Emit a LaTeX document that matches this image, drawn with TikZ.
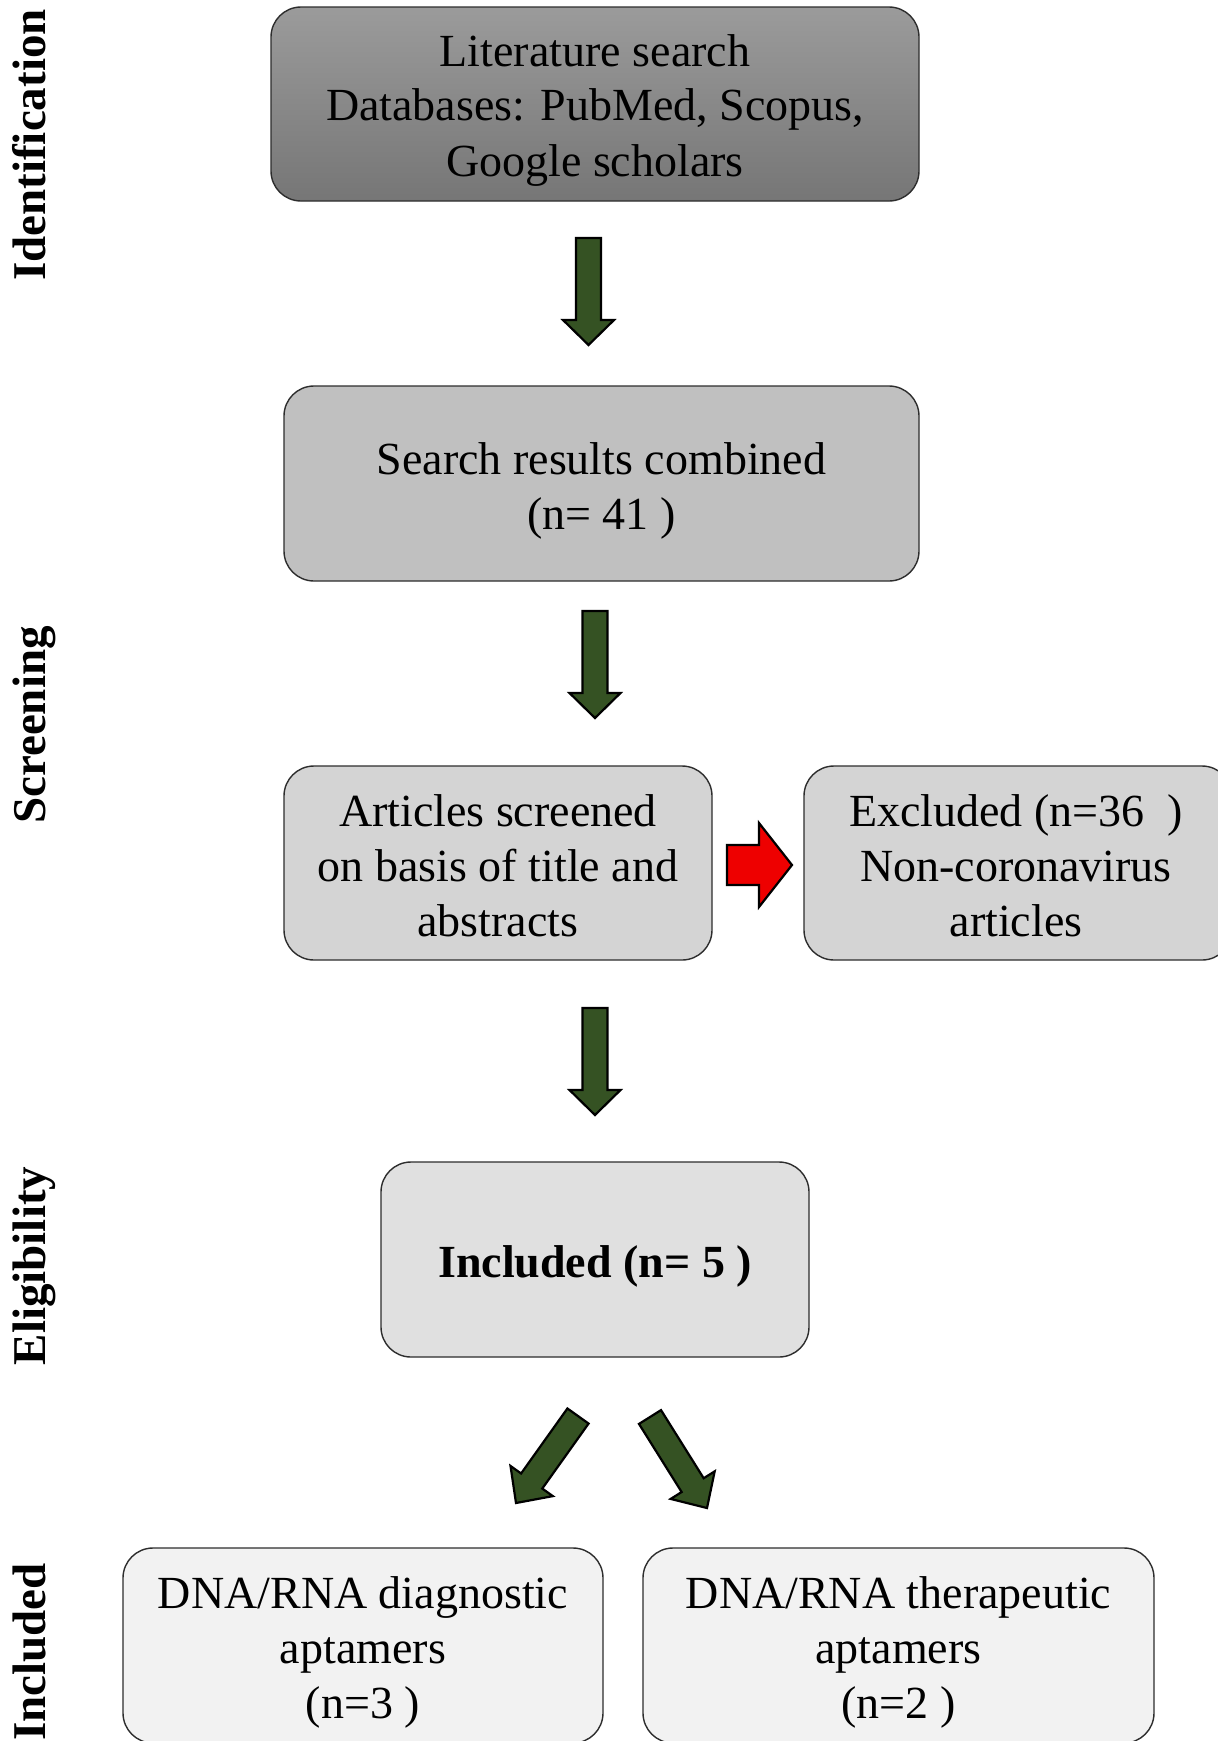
\documentclass[tikz,border=0pt]{standalone}
\usepackage{fontspec}
\setmainfont{Liberation Serif}
\usetikzlibrary{calc}
\definecolor{dgreen}{RGB}{53,82,35}
\definecolor{redarrow}{RGB}{238,0,0}
\definecolor{boxedge}{RGB}{45,45,45}
\definecolor{gA}{RGB}{192,192,192}
\definecolor{gB}{RGB}{212,212,212}
\definecolor{gC}{RGB}{224,224,224}
\definecolor{gD}{RGB}{242,242,242}
\newcommand\blockarrow[6]{%
  % #1 style, #2 tail, #3 tip, #4 shaft half width, #5 head half width, #6 head length
  \draw[#1] ($(#2)!#4!90:(#3)$) -- ($($(#3)!#6!(#2)$)!#4!-90:(#2)$)
    -- ($($(#3)!#6!(#2)$)!#5!-90:(#2)$) -- (#3)
    -- ($($(#3)!#6!(#2)$)!#5!90:(#2)$) -- ($($(#3)!#6!(#2)$)!#4!90:(#2)$)
    -- ($(#2)!#4!-90:(#3)$) -- cycle;}
\begin{document}
\begin{tikzpicture}[x=1pt,y=-1pt,
  box/.style={draw=boxedge, line width=1.4pt, rounded corners=30pt, inner sep=0pt},
  txt/.style={inner sep=0pt, align=center, font=\fontsize{46}{55}\selectfont},
  side/.style={rotate=90, anchor=base, inner sep=0pt, font=\fontsize{47}{55}\selectfont\bfseries},
  garrow/.style={fill=dgreen, draw=black, line width=2.2pt, line join=miter},
  rarrow/.style={fill=redarrow, draw=black, line width=2.2pt, line join=miter}]
\useasboundingbox (0,0) rectangle (1218,1741);
\clip (0,0) rectangle (1218,1741);
\fill[white] (0,0) rectangle (1218,1741);

% side labels
\node[side] (lid) at (45,145) {Identification};
\node[side] (lsc) at (45,725) {Screening};
\node[side] (lel) at (45,1266) {Eligibility};
\node[side] (lin) at (45,1652) {Included};

% boxes
\node[box, minimum width=648pt, minimum height=194pt, top color={rgb,255:red,155;green,155;blue,155},
  bottom color={rgb,255:red,118;green,118;blue,118}] (b1) at (595,104) {};
\node[box, fill=gA, minimum width=635pt, minimum height=195pt] (b2) at (601.5,483.5) {};
\node[box, fill=gB, minimum width=428pt, minimum height=194pt] (b3) at (498,863) {};
\node[box, fill=gB, minimum width=428pt, minimum height=194pt] (b4) at (1018,863) {};
\node[box, fill=gC, minimum width=428pt, minimum height=195pt] (b5) at (595,1259.5) {};
\node[box, fill=gD, minimum width=480pt, minimum height=195pt] (b6) at (363,1645.5) {};
\node[box, fill=gD, minimum width=511pt, minimum height=195pt] (b7) at (898.5,1645.5) {};

% box texts
\node[txt] (b1t) at ($(b1)+(0,6)$) {Literature search\\Databases: PubMed, Scopus,\\Google scholars};
\node[txt] (b2t) at ($(b2)+(0,7)$) {Search results combined\\(n= 41 )};
\node[txt] (b3t) at ($(b3)+(0,3)$) {Articles screened\\on basis of title and\\abstracts};
\node[txt] (b4t) at ($(b4)+(-2,3)$) {Excluded (n=36\ \ )\\Non-coronavirus\\articles};
\node[txt, font=\fontsize{46}{55}\selectfont\bfseries] (b5t) at ($(b5)+(0,7)$) {Included (n= 5 )};
\node[txt] (b6t) at ($(b6)+(0,7)$) {DNA/RNA diagnostic\\aptamers\\(n=3 )};
\node[txt] (b7t) at ($(b7)+(0,7)$) {DNA/RNA therapeutic\\aptamers\\(n=2 )};

% arrow end points
\coordinate (t1) at (588.5,238); \coordinate (p1) at (588.5,345);
\coordinate (t2) at (595,611);   \coordinate (p2) at (595,718);
\coordinate (t3) at (595,1008);  \coordinate (p3) at (595,1115);
\coordinate (tr) at (727,865);   \coordinate (pr) at (792,865);
\coordinate (t4) at (578,1416);  \coordinate (p4) at (516,1503);
\coordinate (t5) at (650,1417);  \coordinate (p5) at (707,1508);

\blockarrow{garrow}{t1}{p1}{12.5pt}{25.5pt}{25pt}
\blockarrow{garrow}{t2}{p2}{12.5pt}{25.5pt}{25pt}
\blockarrow{garrow}{t3}{p3}{12.5pt}{25.5pt}{25pt}
\blockarrow{rarrow}{tr}{pr}{20pt}{42pt}{33pt}
\blockarrow{garrow}{t4}{p4}{13pt}{26pt}{27pt}
\blockarrow{garrow}{t5}{p5}{13pt}{26pt}{27pt}
\end{tikzpicture}
\end{document}
